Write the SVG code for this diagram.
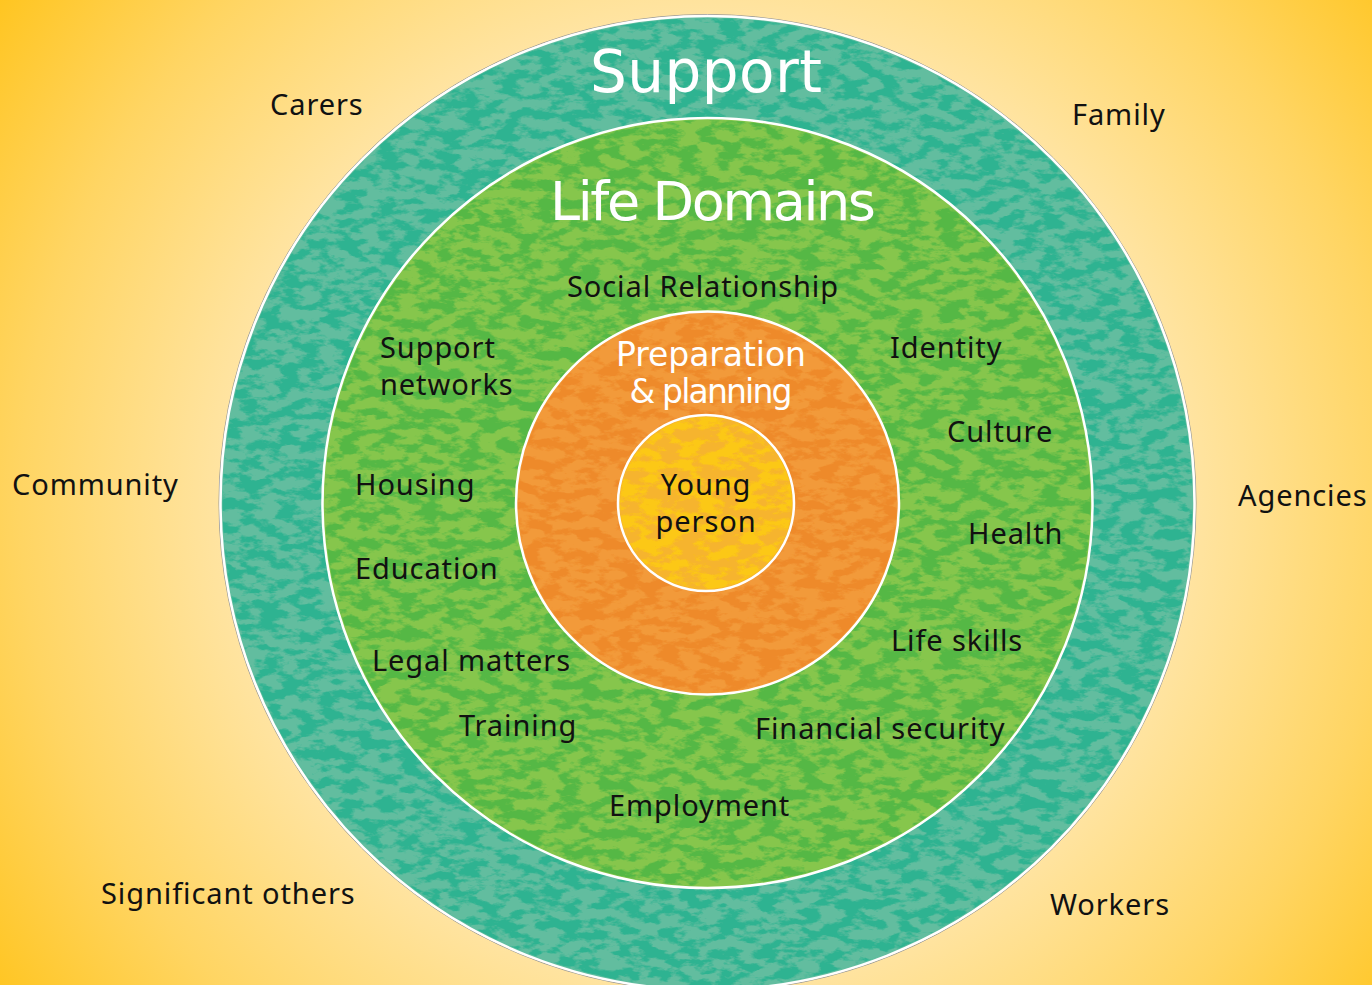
<svg xmlns="http://www.w3.org/2000/svg" width="1372" height="985" viewBox="0 0 1372 985">
<defs>
  <radialGradient id="bg" gradientUnits="userSpaceOnUse" cx="707" cy="500" r="880">
    <stop offset="0" stop-color="#fff3d0"/>
    <stop offset="0.55" stop-color="#ffe4a2"/>
    <stop offset="0.78" stop-color="#ffd563"/>
    <stop offset="1" stop-color="#ffc41c"/>
  </radialGradient>
  <filter id="mottle" x="0" y="0" width="100%" height="100%">
    <feTurbulence type="fractalNoise" baseFrequency="0.05 0.1" numOctaves="4" seed="7" result="noise"/>
    <feColorMatrix in="noise" type="matrix" values="0 0 0 0 0  0 0 0 0 0  0 0 0 0 0  7 0 0 0 -3.1" result="mask"/>
    <feComposite in="SourceGraphic" in2="mask" operator="in"/>
  </filter>
  <style>
    .lbl { font-family: "Noto Sans", "Open Sans", "Liberation Sans", sans-serif; font-size: 29px; letter-spacing: 0.9px; fill: #111; }
    .ttl { font-family: "DejaVu Sans", "Liberation Sans", sans-serif; fill: #ffffff; }
    .ring { stroke: #ffffff; stroke-width: 2.5; }
  </style>
</defs>
<rect x="0" y="0" width="1372" height="985" fill="url(#bg)"/>

<g id="support-ring">
  <circle cx="707.5" cy="503" r="488.5" fill="none" stroke="#9a9a9a" stroke-width="1"/>
  <circle cx="707.5" cy="503" r="487" fill="#62bd9f" class="ring"/>
  <circle cx="707.5" cy="503" r="485" fill="#2fb391" filter="url(#mottle)"/>
  <text class="ttl" x="706" y="92" font-size="58" text-anchor="middle" textLength="232">Support</text>
</g>

<g id="life-domains-ring">
  <circle cx="707.5" cy="503" r="385" fill="#86c64c" class="ring"/>
  <circle cx="707.5" cy="503" r="383" fill="#55b845" filter="url(#mottle)"/>
  <text class="ttl" x="713" y="220" font-size="54" text-anchor="middle" textLength="326">Life Domains</text>
</g>

<g id="preparation-ring">
  <circle cx="707.5" cy="503" r="191.5" fill="#f29a3a" class="ring"/>
  <circle cx="707.5" cy="503" r="189.5" fill="#ee8a2a" filter="url(#mottle)"/>
  <text class="ttl" x="711" y="366" font-size="33" text-anchor="middle" textLength="190">Preparation</text>
  <text class="ttl" x="711" y="403" font-size="33" text-anchor="middle" textLength="163">&amp; planning</text>
</g>

<g id="young-person">
  <circle cx="706" cy="503" r="88" fill="#f6b42e" class="ring"/>
  <circle cx="706" cy="503" r="86" fill="#fcc814" filter="url(#mottle)"/>
  <text class="lbl" x="706" y="495" text-anchor="middle">Young</text>
  <text class="lbl" x="706" y="532" text-anchor="middle">person</text>
</g>

<g id="connectors"/>

<g id="support-labels">
  <text id="carers" class="lbl" x="270" y="115">Carers</text>
  <text id="family" class="lbl" x="1072" y="125">Family</text>
  <text id="community" class="lbl" x="12" y="495">Community</text>
  <text id="agencies" class="lbl" x="1238" y="506">Agencies</text>
  <text id="significant-others" class="lbl" x="101" y="904">Significant others</text>
  <text id="workers" class="lbl" x="1050" y="915">Workers</text>
</g>

<g id="domain-labels">
  <text id="social" class="lbl" x="567" y="297">Social Relationship</text>
  <text id="support-networks" class="lbl" x="380" y="358">Support<tspan x="380" y="395">networks</tspan></text>
  <text id="identity" class="lbl" x="890" y="358">Identity</text>
  <text id="culture" class="lbl" x="947" y="442">Culture</text>
  <text id="housing" class="lbl" x="355" y="495">Housing</text>
  <text id="health" class="lbl" x="968" y="544">Health</text>
  <text id="education" class="lbl" x="355" y="579">Education</text>
  <text id="life-skills" class="lbl" x="891" y="651">Life skills</text>
  <text id="legal" class="lbl" x="372" y="671">Legal matters</text>
  <text id="training" class="lbl" x="459" y="736">Training</text>
  <text id="financial" class="lbl" x="755" y="739">Financial security</text>
  <text id="employment" class="lbl" x="609" y="816">Employment</text>
</g>
</svg>
